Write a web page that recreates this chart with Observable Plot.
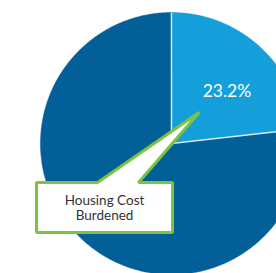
<!DOCTYPE html>
<html>
<head>
<meta charset="utf-8">
<script src="https://cdn.jsdelivr.net/npm/d3@7"></script>
<script src="https://cdn.jsdelivr.net/npm/@observablehq/plot@0.6"></script>
<style>
  html, body { margin: 0; padding: 0; background: #ffffff; }
  #chart svg { display: block; overflow: hidden; }
</style>
</head>
<body>
<div id="chart"></div>
<script>
// ---- data ----
const categories = ["Housing Cost Burdened", "Not Burdened"];
const shares = [23.2, 76.8];
const valueLabels = ["23.2%", ""];
const calloutText = "Housing Cost\nBurdened";

// ---- styles / layout ----
const colors = ["#149fda", "#035f97"];
const green = "#7dc242";
const W = 276, H = 273;
const xDomain = [-1.305, 0.8015];
const yDomain = [-0.992, 1.0916];
const unit = W / (xDomain[1] - xDomain[0]); // px per data unit

const table = categories.map((c, i) => ({ category: c, value: shares[i], label: valueLabels[i] }));
const arcs = d3.pie().sort(null).value(d => d.value)(table);

// polygon points for each slice (angle measured clockwise from 12 o'clock)
const pt = (a, r) => [r * Math.sin(a), r * Math.cos(a)];
const slicePts = [];
arcs.forEach(a => {
  slicePts.push({ category: a.data.category, x: 0, y: 0 });
  const n = Math.max(2, Math.ceil((a.endAngle - a.startAngle) / (Math.PI / 360)));
  for (let k = 0; k <= n; k++) {
    const t = a.startAngle + (a.endAngle - a.startAngle) * k / n;
    const [x, y] = pt(t, 1);
    slicePts.push({ category: a.data.category, x, y });
  }
});
const separators = arcs.map(a => { const [x, y] = pt(a.startAngle, 1); return { x1: 0, y1: 0, x2: x, y2: y }; });
const labelPts = arcs.filter(a => a.data.label).map(a => {
  const m = (a.startAngle + a.endAngle) / 2;
  const [x, y] = pt(m, 0.59);
  return { x, y, label: a.data.label };
});

// callout: pointer apex at the burdened slice, box below-left (sizes in px -> data units)
const first = arcs[0];
const [ax, ay] = pt((first.startAngle + first.endAngle) / 2, 0.32);
const px = v => v / unit;
const boxCx = -0.511, boxCy = -0.489, boxW = px(136), boxH = px(50);
const bL = boxCx - boxW / 2, bR = boxCx + boxW / 2, bT = boxCy + boxH / 2, bB = boxCy - boxH / 2;
const callout = [
  [bL, bT], [boxCx - px(7), bT], [ax, ay], [boxCx + px(34), bT], [bR, bT], [bR, bB], [bL, bB]
].map(([x, y]) => ({ x, y }));

const chart = Plot.plot({
  width: W,
  height: H,
  margin: 0,
  x: { domain: xDomain, axis: null },
  y: { domain: yDomain, axis: null },
  color: { domain: categories, range: colors },
  style: { background: "#ffffff", overflow: "hidden" },
  marks: [
    Plot.line(slicePts, { x: "x", y: "y", z: "category", fill: "category", stroke: "category", strokeWidth: 0.5, curve: "linear-closed" }),
    Plot.link(separators, { x1: "x1", y1: "y1", x2: "x2", y2: "y2", stroke: "#d8ecf7", strokeWidth: 1.5 }),
    Plot.text(labelPts, { x: "x", y: "y", text: "label", fill: "white", fontSize: 17.5, fontFamily: "Lato", dx: 4, dy: 6 }),
    Plot.line(callout, { x: "x", y: "y", fill: "white", stroke: green, strokeWidth: 3, strokeLinejoin: "miter", curve: "linear-closed" }),
    Plot.text([{ x: boxCx, y: boxCy, t: calloutText }], { x: "x", y: "y", text: "t", fill: "#333333", fontSize: 13.5, fontFamily: "Lato", lineHeight: 1.14 })
  ]
});
document.getElementById("chart").appendChild(chart);
</script>
</body>
</html>
